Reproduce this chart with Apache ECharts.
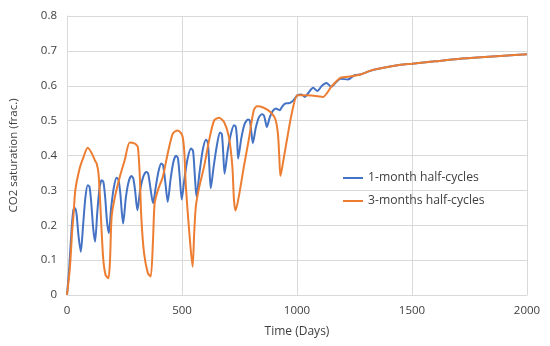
<!DOCTYPE html>
<html>
<head>
<meta charset="utf-8">
<script src="https://cdn.jsdelivr.net/npm/echarts@6/dist/echarts.min.js"></script>
<style>html,body{margin:0;padding:0;background:#fff}#c{width:550px;height:346px}</style>
</head>
<body>
<div id="c"></div>
<script>
var seriesNames = ['1-month half-cycles', '3-months half-cycles'];
var xTicks = [0, 500, 1000, 1500, 2000];
var yTicks = [0, 0.1, 0.2, 0.3, 0.4, 0.5, 0.6, 0.7, 0.8];

var blueDays = [0,10,20,28,36,42,50,60,70,80,90,98,106,114,122,132,142,151,158,166,174,182,192,204,216,224,232,238,244,256,268,280,288,296,306,318,332,345,353,362,374,386,398,410,418,428,438,450,462,474,482,490,499,510,524,539,548,556,563,576,590,604,612,618,625,638,652,665,673,679,685,698,712,726,734,740,744,758,772,787,795,801,808,821,835,848,856,862,869,882,895,908,918,926,934,948,960,970,984,1002,1020,1034,1050,1070,1089,1108,1128,1149,1170,1190,1221,1250,1279,1315,1365,1451,1500,1600,1700,1800,1900,2000];
var blueVals = [0,0.08,0.19,0.245,0.249,0.23,0.17,0.124,0.20,0.28,0.315,0.31,0.26,0.19,0.153,0.24,0.31,0.329,0.325,0.28,0.21,0.177,0.25,0.31,0.336,0.33,0.29,0.24,0.205,0.28,0.325,0.341,0.335,0.30,0.243,0.30,0.34,0.353,0.348,0.31,0.263,0.31,0.355,0.377,0.372,0.32,0.267,0.33,0.38,0.399,0.393,0.34,0.274,0.33,0.39,0.42,0.413,0.34,0.282,0.35,0.415,0.445,0.438,0.38,0.306,0.37,0.43,0.466,0.462,0.41,0.348,0.41,0.46,0.487,0.482,0.44,0.391,0.45,0.49,0.503,0.50,0.47,0.436,0.48,0.51,0.518,0.515,0.50,0.482,0.51,0.528,0.535,0.532,0.53,0.539,0.549,0.55,0.551,0.558,0.573,0.575,0.568,0.58,0.594,0.585,0.60,0.608,0.597,0.61,0.62,0.618,0.63,0.633,0.642,0.65,0.66,0.663,0.670,0.677,0.682,0.686,0.690];

var orangeDays = [0,10,15,22,29,36,53,72,90,108,122,129,137,144,151,158,168,180,187,194,208,230,251,273,295,305,309,316,323,335,352,364,374,381,395,417,438,460,481,495,503,510,517,532,546,553,560,575,596,618,640,661,683,704,719,726,733,747,769,790,812,826,855,884,905,917,923,928,941,956,977,1002,1035,1063,1090,1113,1149,1190,1236,1279,1322,1365,1451,1500,1600,1700,1800,1900,2000];
var orangeVals = [0,0.06,0.10,0.18,0.235,0.30,0.358,0.396,0.422,0.406,0.385,0.377,0.348,0.27,0.177,0.10,0.057,0.048,0.10,0.224,0.28,0.34,0.387,0.437,0.434,0.428,0.42,0.348,0.224,0.12,0.062,0.053,0.158,0.263,0.30,0.34,0.406,0.463,0.472,0.465,0.453,0.41,0.31,0.177,0.081,0.177,0.253,0.31,0.368,0.444,0.501,0.508,0.496,0.453,0.368,0.272,0.242,0.282,0.368,0.444,0.53,0.541,0.537,0.525,0.506,0.463,0.396,0.341,0.387,0.444,0.52,0.573,0.573,0.572,0.57,0.568,0.597,0.623,0.627,0.633,0.644,0.65,0.66,0.663,0.670,0.677,0.682,0.686,0.690];

function zip(a, b) { return a.map(function (v, i) { return [v, b[i]]; }); }

var font = 'Open Sans';
var txt = '#404040';
var chart = echarts.init(document.getElementById('c'));
chart.setOption({
  animation: false,
  backgroundColor: '#fff',
  grid: { left: 63, right: 23, top: 16, bottom: 51 },
  legend: {
    orient: 'vertical', left: 343, top: 171, padding: 0,
    icon: 'rect', itemWidth: 20, itemHeight: 2, itemGap: 9,
    textStyle: { fontFamily: font, fontSize: 12.2, color: txt, lineHeight: 14 },
    data: seriesNames
  },
  xAxis: {
    type: 'value', min: xTicks[0], max: xTicks[xTicks.length - 1], interval: 500,
    name: 'Time (Days)', nameLocation: 'middle', nameGap: 31,
    nameTextStyle: { fontFamily: font, fontSize: 12, color: txt },
    axisLine: { show: true, lineStyle: { color: '#d9d9d9', width: 1 } },
    axisTick: { show: false },
    axisLabel: { fontFamily: font, fontSize: 11.5, color: txt, margin: 10,
      formatter: function (v) { return String(v); } },
    splitLine: { show: true, lineStyle: { color: '#d9d9d9', width: 1 } }
  },
  yAxis: {
    type: 'value', min: yTicks[0], max: yTicks[yTicks.length - 1], interval: 0.1,
    name: 'CO2 saturation (frac.)', nameLocation: 'middle', nameGap: 47, nameRotate: 90,
    nameTextStyle: { fontFamily: font, fontSize: 11.5, color: txt },
    axisLine: { show: true, lineStyle: { color: '#d9d9d9', width: 1 } },
    axisTick: { show: false },
    axisLabel: { fontFamily: font, fontSize: 11.5, color: txt, margin: 10,
      formatter: function (v) { return String(Math.round(v * 10) / 10); } },
    splitLine: { show: true, lineStyle: { color: '#d9d9d9', width: 1 } }
  },
  series: [
    { name: seriesNames[0], type: 'line', data: zip(blueDays, blueVals), showSymbol: false,
      smooth: 0.25, lineStyle: { color: '#4472C4', width: 2 }, itemStyle: { color: '#4472C4' }, z: 2 },
    { name: seriesNames[1], type: 'line', data: zip(orangeDays, orangeVals), showSymbol: false,
      smooth: 0.25, lineStyle: { color: '#ED7D31', width: 2 }, itemStyle: { color: '#ED7D31' }, z: 3 }
  ]
});
</script>
</body>
</html>
